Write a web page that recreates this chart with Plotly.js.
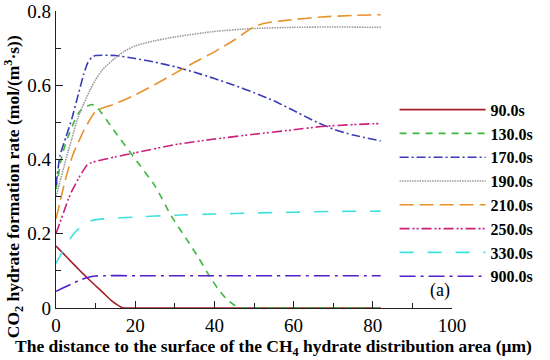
<!DOCTYPE html>
<html>
<head>
<meta charset="utf-8">
<script src="https://cdn.plot.ly/plotly-3.0.1.min.js"></script>
<style>html,body{margin:0;padding:0;background:#fff;}#chart{width:550px;height:360px;}</style>
</head>
<body>
<div id="chart"></div>
<script>
var seriesNames = ["90.0s","130.0s","170.0s","190.0s","210.0s","250.0s","330.0s","900.0s"];

var x90  = [0,2,4,6,8,10,12,14,16,17,20,40,60,82];
var y90  = [0.167,0.145,0.123,0.101,0.08,0.06,0.04,0.02,0.005,0,0,0,0,0];

var x130 = [0,1.5,3,4.5,6,7.5,9,10,15,20,25,29,33,36,38.7,41,43,45,47,50,60,70,82];
var y130 = [0.32,0.41,0.46,0.50,0.53,0.542,0.548,0.545,0.473,0.401,0.329,0.25,0.185,0.135,0.087,0.05,0.025,0.008,0,0,0,0,0];

var x170 = [0,1,2.5,4,5.5,7,8,9,10,15,20,25,30,35,40,45,50,55,60,65,70,75,82];
var y170 = [0.33,0.41,0.46,0.51,0.57,0.63,0.66,0.675,0.68,0.68,0.672,0.662,0.65,0.635,0.618,0.6,0.58,0.558,0.532,0.505,0.482,0.466,0.45];

var x190 = [0,1,2,3,4,5,6,7,8.5,10,12,14,17,20,25,30,40,50,60,70,82];
var y190 = [0.30,0.34,0.38,0.42,0.455,0.495,0.525,0.55,0.585,0.615,0.645,0.665,0.69,0.706,0.72,0.73,0.745,0.753,0.756,0.757,0.756];

var x210 = [0,1,2,3,4,5,6,7,8,10,15,20,25,30,35,40,45,48,50,52,55,60,67,75,82];
var y210 = [0.24,0.285,0.33,0.37,0.405,0.432,0.455,0.478,0.497,0.53,0.55,0.574,0.602,0.632,0.662,0.69,0.722,0.744,0.757,0.765,0.771,0.777,0.784,0.788,0.79];

var x250 = [0,1,2,3,4,5,6,7,8,10,15,20,30,40,50,60,67,75,82];
var y250 = [0.2,0.23,0.26,0.29,0.315,0.335,0.355,0.372,0.387,0.395,0.407,0.418,0.44,0.455,0.468,0.48,0.489,0.494,0.497];

var x330 = [0,1,2,3,4,5,6,7,8,10,15,20,30,40,50,60,70,82];
var y330 = [0.12,0.14,0.16,0.178,0.193,0.206,0.216,0.225,0.232,0.238,0.242,0.245,0.25,0.253,0.256,0.258,0.26,0.261];

var x900 = [0,2,4,6,8,10,12,20,40,60,82];
var y900 = [0.045,0.055,0.065,0.075,0.082,0.086,0.087,0.087,0.087,0.087,0.087];

var xTickVals = [0,20,40,60,80,100];
var yTickVals = [0,0.2,0.4,0.6,0.8];
var yTickText = ["0","0.2","0.4","0.6","0.8"];
var xTitle = "<b>The distance to the surface of the CH<sub>4</sub> hydrate distribution area (μm)</b>";
var yTitle = "<b>CO<sub>2</sub> hydrate formation rate (mol/(m<sup>3</sup>·s))</b>";

var xs = [x90,x130,x170,x190,x210,x250,x330,x900];
var ys = [y90,y130,y170,y190,y210,y250,y330,y900];
var colors = ["#a3202a","#3cb83c","#3a3ab4","#9a9a9a","#e8922e","#cc1f7a","#3fe0e0","#5020c8"];
var dashes = ["solid","7px,6px","9px,3px,2px,3px","1.5px,1px","14px,6px","10px,3px,2px,2px,2px,3px","14px,14px","16px,5px,3px,5px"];

var traces = xs.map(function(x,i){
  return {x:x, y:ys[i], type:"scatter", mode:"lines", name:seriesNames[i],
    line:{color:colors[i], dash:dashes[i], width:1.6, shape:"spline", smoothing:0.5}};
});

var serif = "Liberation Serif";
var layout = {
  width:550, height:360,
  margin:{l:56, r:92, t:11, b:52},
  paper_bgcolor:"#fff", plot_bgcolor:"#fff",
  font:{family:serif, color:"#000"},
  showlegend:true,
  legend:{x:0.855, y:0.725, xanchor:"left", yanchor:"top", bgcolor:"rgba(0,0,0,0)",
    font:{family:serif, size:16, color:"#000", weight:"bold"}, itemwidth:86, tracegroupgap:0},
  xaxis:{range:[0,100], showgrid:false, zeroline:false, showline:true, linecolor:"#222", linewidth:1.2,
    tickvals:xTickVals, ticks:"inside", ticklen:7, tickcolor:"#222",
    minor:{dtick:10, ticks:"inside", ticklen:5, tickcolor:"#222", showgrid:false},
    tickfont:{family:serif, size:19, color:"#000"}},
  yaxis:{range:[0,0.8], showgrid:false, zeroline:false, showline:true, linecolor:"#222", linewidth:1.2,
    tickvals:yTickVals, ticktext:yTickText, ticks:"inside", ticklen:7, tickcolor:"#222",
    minor:{dtick:0.1, ticks:"inside", ticklen:5, tickcolor:"#222", showgrid:false},
    tickfont:{family:serif, size:19, color:"#000"}},
  annotations:[
    {x:97, y:0.048, xref:"x", yref:"y", text:"(a)", showarrow:false,
      font:{family:serif, size:18, color:"#000"}},
    {x:0.549, y:-0.134, xref:"paper", yref:"paper", xanchor:"center", yanchor:"middle",
      text:xTitle, showarrow:false, font:{family:serif, size:17.5, color:"#000"}},
    {x:-0.107, y:0.409, xref:"paper", yref:"paper", xanchor:"center", yanchor:"middle", textangle:-90,
      text:yTitle, showarrow:false, font:{family:serif, size:17.5, color:"#000"}}
  ]
};

Plotly.newPlot("chart", traces, layout, {displayModeBar:false, staticPlot:true});
</script>
</body>
</html>
